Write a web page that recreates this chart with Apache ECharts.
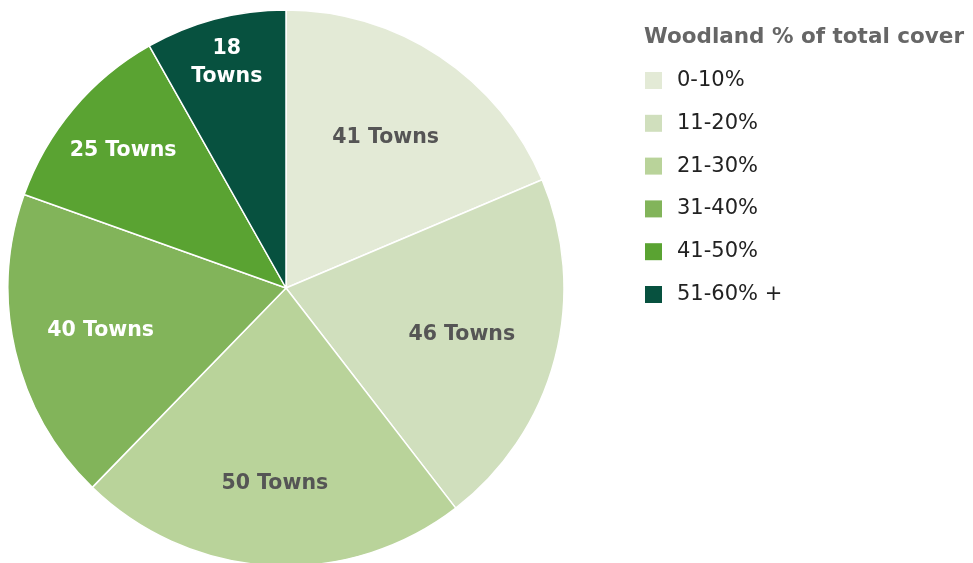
<!DOCTYPE html>
<html><head><meta charset="utf-8">
<script src="https://cdn.jsdelivr.net/npm/echarts@6/dist/echarts.min.js"></script>
<style>html,body{margin:0;padding:0;background:#fff}#c{width:973px;height:563px}</style>
</head><body><div id="c"></div>
<script>
const categories = ['0-10%', '11-20%', '21-30%', '31-40%', '41-50%', '51-60% +'];
const towns = [41, 46, 50, 40, 25, 18];
const colors = ['#e3ead6', '#d0dfbd', '#b9d39a', '#82b45a', '#5aa332', '#07513f'];
const labelColors = ['#555555', '#555555', '#555555', '#ffffff', '#ffffff', '#ffffff'];
const labelRadiusFactor = [1.27, 1.28, 1.38, 1.34, 1.5, 1.64];
const legendTitle = 'Woodland % of total cover';
const CX = 286, CY = 288, R = 278;
const FONT = 'DejaVu Sans';

const chart = echarts.init(document.getElementById('c'));
chart.setOption({
  animation: false,
  title: {
    text: legendTitle, left: 644, top: 26, padding: 0,
    textStyle: { fontFamily: FONT, fontWeight: 'bold', fontSize: 21.5, color: '#666666' }
  },
  legend: {
    orient: 'vertical', left: 645, top: 70, padding: 0,
    itemWidth: 17, itemHeight: 17, itemGap: 21.8,
    icon: 'rect',
    itemStyle: { borderWidth: 0 },
    data: categories,
    textStyle: { fontFamily: FONT, fontSize: 21, lineHeight: 21, color: '#222222', padding: [0, 0, 0, 10] }
  },
  series: [{
    type: 'pie',
    center: [CX, CY], radius: [0, R],
    startAngle: 90, clockwise: true,
    silent: true,
    itemStyle: { borderColor: '#ffffff', borderWidth: 1.5 },
    label: {
      position: 'inside',
      fontFamily: FONT, fontWeight: 'bold', fontSize: 20.5, lineHeight: 28,
      align: 'center'
    },
    labelLayout: function (p) {
      const k = labelRadiusFactor[p.dataIndex];
      const lx = p.labelRect.x + p.labelRect.width / 2;
      const ly = p.labelRect.y + p.labelRect.height / 2;
      return { x: CX + (lx - CX) * k, y: CY + (ly - CY) * k, align: 'center', verticalAlign: 'middle' };
    },
    data: categories.map((c, i) => ({
      name: c, value: towns[i],
      itemStyle: { color: colors[i] },
      label: {
        color: labelColors[i],
        formatter: i === 5 ? towns[i] + '\nTowns' : towns[i] + ' Towns'
      }
    }))
  }]
});
</script></body></html>
